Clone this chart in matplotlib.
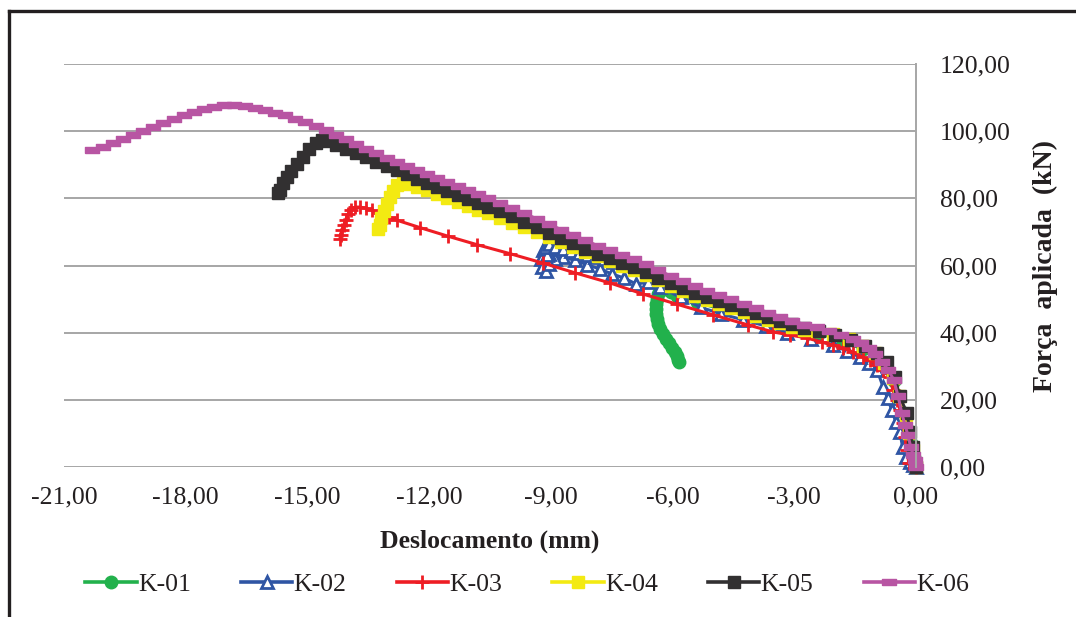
import matplotlib
matplotlib.use('Agg')
import matplotlib.pyplot as plt
from matplotlib.lines import Line2D
from matplotlib.ticker import FuncFormatter

plt.rcParams['font.family'] = ['Liberation Serif', 'DejaVu Serif']
plt.rcParams['axes.unicode_minus'] = False

# K-01
k01_x = [0, -0.05, -0.12, -0.2, -0.3, -0.42, -0.55, -0.72, -0.95, -1.3, -1.8, -2.4, -3.0,
         -3.6, -4.2, -4.8, -5.4, -5.9, -6.05, -6.15, -6.25, -6.32, -6.36, -6.39, -6.41,
         -6.42, -6.42, -6.39, -6.35, -6.3, -6.23, -6.16, -6.08, -6.01, -5.95, -5.9, -5.86,
         -5.83]
k01_y = [0, 3, 7, 11, 16, 21, 25.5, 29.5, 32.5, 35, 37.5, 39.8, 41.8,
         43.5, 45.2, 47, 49, 51, 52.2, 53, 53.6, 52.8, 51.5, 50, 48.5,
         47, 45.5, 44, 42.5, 41, 39.6, 38.2, 36.8, 35.5, 34.2, 33, 32,
         31.3]

# K-02
k02_x = [0, -0.07, -0.15, -0.25, -0.33, -0.4, -0.5, -0.6, -0.7, -0.81, -0.96, -1.15, -1.38,
         -1.7, -2.04, -2.6, -3.18, -3.7, -4.26, -4.8, -5.3, -5.8, -6.3, -6.6, -6.9, -7.2,
         -7.5, -7.8, -8.1, -8.4, -8.7, -8.9, -9.05, -9.2, -9.25, -9.22, -9.12, -9.05, -9.1,
         -9.15, -9.05, -8.9, -8.7, -8.5, -8.3, -8.1, -7.9, -7.7, -7.47]
k02_y = [0, 0.5, 1.5, 3, 6, 10.4, 13.5, 17, 20.5, 23.8, 28.9, 31, 32.7,
         34.5, 36.3, 38.2, 40, 42, 43.8, 45.6, 47.5, 50.5, 53.5, 55, 54.5, 56.3,
         57.5, 59, 60.2, 61.5, 62.5, 62, 63.5, 64.5, 62, 59.5, 58.5, 60.5, 63,
         65.5, 66.5, 65.5, 64.8, 64.3, 63.7, 63.1, 62.5, 61.8, 61]

# K-03
k03_x = [0, -0.18, -0.22, -0.27, -0.32, -0.39, -0.47, -0.57, -0.64, -0.81, -0.96, -1.13,
         -1.31, -1.55, -1.8, -2.04, -2.32, -2.69, -3.1, -3.52, -4.14, -5.0, -5.9, -6.73,
         -7.54, -8.4, -9.19, -10.0, -10.82, -11.53, -12.23, -12.8, -13.0, -13.2, -13.4,
         -13.55, -13.7, -13.82, -13.92, -14.0, -14.06, -14.1, -14.14, -14.18, -14.2]
k03_y = [0, 1.2, 5, 9, 13, 17, 19.9, 22.9, 26.8, 28.9, 30.4, 31.8,
         32.7, 34.2, 35.4, 36.3, 37.2, 38.4, 39.3, 40.2, 42.3, 45.3, 48.5, 51.5,
         54.8, 57.8, 60.7, 63.5, 66.2, 68.7, 71.3, 73.5, 74.5, 75.5, 76.4,
         77, 77.4, 77.4, 76.6, 75.2, 73.6, 72, 70.5, 69, 68]

# K-04
k04_x = [0, -0.08, -0.17, -0.25, -0.42, -0.56, -0.78, -1.0, -1.3, -1.65, -2.05, -2.45,
         -2.75, -3.05, -3.35, -3.65, -3.95, -4.25, -4.55, -4.85, -5.15, -5.45, -5.75,
         -6.05, -6.35, -6.65, -6.95, -7.25, -7.55, -7.85, -8.15, -8.45, -8.75, -9.05,
         -9.35, -9.65, -9.95, -10.25, -10.55, -10.8, -11.05, -11.3, -11.55, -11.8, -12.05,
         -12.3, -12.5, -12.65, -12.78, -12.88, -12.97, -13.05, -13.12, -13.18, -13.22,
         -13.25]
k04_y = [0, 5, 10, 15.5, 21, 26.5, 31, 33.8, 36, 38, 39.6, 40.5,
         40.8, 41.8, 42.8, 43.9, 45, 46.2, 47.4, 48.6, 49.7, 51, 52.5,
         54, 55.6, 57.2, 58.7, 60, 61.3, 62.7, 64.1, 65.6, 67.1, 68.6,
         70, 71.4, 72.8, 74.2, 75.5, 76.6, 77.8, 79, 80.1, 81.3, 82.4,
         83.4, 84.2, 84.6, 84, 82.3, 80.3, 78.3, 76.2, 74.2, 72.2,
         70.8]

# K-05
k05_x = [0, -0.07, -0.15, -0.22, -0.4, -0.52, -0.72, -0.96, -1.25, -1.6, -2.0, -2.4,
         -2.75, -3.05, -3.35, -3.65, -3.95, -4.25, -4.55, -4.85, -5.15, -5.45, -5.75,
         -6.05, -6.35, -6.65, -6.95, -7.25, -7.55, -7.85, -8.15, -8.45, -8.75, -9.05,
         -9.35, -9.65, -9.95, -10.25, -10.55, -10.8, -11.05, -11.3, -11.55, -11.8, -12.05,
         -12.3, -12.55, -12.8, -13.05, -13.3, -13.55, -13.8, -14.05, -14.3, -14.5, -14.65,
         -14.8, -14.95, -15.1, -15.25, -15.4, -15.5, -15.6, -15.68, -15.72]
k05_y = [0, 6, 10.4, 16, 21, 26.8, 31.3, 34, 36, 37.8, 39.3, 40.5,
         41.4, 42.5, 43.5, 44.6, 45.8, 47, 48.2, 49.4, 50.5, 51.8, 53.3,
         54.8, 56.4, 58, 59.5, 60.8, 62.1, 63.5, 65, 66.6, 68.2, 69.8,
         71.4, 73, 74.6, 76.1, 77.5, 78.7, 79.9, 81.1, 82.3, 83.5, 84.7,
         85.9, 87.1, 88.3, 89.6, 90.9, 92.2, 93.4, 94.6, 96, 97, 97.3,
         96.5, 94.6, 92.4, 90.2, 88, 86.3, 84.5, 82.5, 81.5]

# K-06
k06_x = [0, -0.03, -0.07, -0.13, -0.2, -0.27, -0.35, -0.44, -0.55, -0.69, -0.84, -1.0,
         -1.15, -1.35, -1.55, -1.85, -2.15, -2.45, -2.75, -3.05, -3.35, -3.65, -3.95,
         -4.25, -4.55, -4.85, -5.15, -5.45, -5.75, -6.05, -6.35, -6.65, -6.95, -7.25,
         -7.55, -7.85, -8.15, -8.45, -8.75, -9.05, -9.35, -9.65, -9.95, -10.25, -10.55,
         -10.8, -11.05, -11.3, -11.55, -11.8, -12.05, -12.3, -12.55, -12.8, -13.05, -13.3,
         -13.55, -13.8, -14.05, -14.3, -14.55, -14.8, -15.05, -15.3, -15.55, -15.8, -16.05,
         -16.3, -16.55, -16.8, -17.05, -17.3, -17.55, -17.8, -18.05, -18.3, -18.55, -18.8,
         -19.05, -19.3, -19.55, -19.8, -20.05, -20.3]
k06_y = [0, 2, 3.6, 6, 9.5, 12.5, 16, 21, 26, 29, 31.3, 33.6,
         35.3, 36.8, 38, 39.4, 40.6, 41.6, 42.4, 43.6, 44.8, 46, 47.3,
         48.6, 49.9, 51.2, 52.4, 53.8, 55.3, 56.9, 58.6, 60.3, 61.8, 63.2,
         64.5, 65.9, 67.5, 69.1, 70.7, 72.3, 73.9, 75.5, 77.1, 78.6, 80,
         81.2, 82.4, 83.6, 84.8, 86, 87.2, 88.4, 89.6, 90.8, 92.1, 93.4,
         94.7, 96.2, 97.6, 99, 100.4, 101.6, 102.7, 103.7, 104.7, 105.5, 106.3,
         107, 107.5, 107.8, 107.7, 107.3, 106.6, 105.7, 104.7, 103.6, 102.5, 101.3,
         100.1, 98.8, 97.6, 96.4, 95.3, 94.4]

x_ticks = [-21, -18, -15, -12, -9, -6, -3, 0]
y_ticks = [0, 20, 40, 60, 80, 100, 120]

rect = [(-1, -0.5), (1, -0.5), (1, 0.5), (-1, 0.5), (-1, -0.5)]

series = [
    ('K-01', k01_x, k01_y, dict(color='#22B14C', marker='o', markersize=9,
                                markerfacecolor='#22B14C', markeredgecolor='#22B14C')),
    ('K-02', k02_x, k02_y, dict(color='#2F55A4', marker='^', markersize=9,
                                markerfacecolor='white', markeredgecolor='#2F55A4',
                                markeredgewidth=2.0)),
    ('K-03', k03_x, k03_y, dict(color='#EE1D24', marker='+', markersize=10,
                                markeredgecolor='#EE1D24', markeredgewidth=2.0)),
    ('K-04', k04_x, k04_y, dict(color='#F3EA12', marker='s', markersize=8.5,
                                markerfacecolor='#F3EA12', markeredgecolor='#F3EA12')),
    ('K-05', k05_x, k05_y, dict(color='#323031', marker='s', markersize=8.5,
                                markerfacecolor='#323031', markeredgecolor='#323031')),
    ('K-06', k06_x, k06_y, dict(color='#B855A3', marker=rect, markersize=10,
                                markerfacecolor='#B855A3', markeredgecolor='#B855A3')),
]

fig = plt.figure(figsize=(10.76, 6.17), dpi=100)
ax = fig.add_axes([64 / 1076, 150 / 617, 852 / 1076, 403 / 617])

for name, xs, ys, style in series:
    ax.plot(xs, ys, linewidth=2.2, label=name, clip_on=False, **style)

ax.set_xlim(-21, 0)
ax.set_ylim(0, 120)
ax.set_xticks(x_ticks)
ax.set_yticks(y_ticks)
fmt = FuncFormatter(lambda v, p: f"{v:.2f}".replace('.', ','))
ax.xaxis.set_major_formatter(fmt)
ax.yaxis.set_major_formatter(fmt)

ax.yaxis.tick_right()
ax.yaxis.set_label_position('right')
ax.tick_params(axis='both', length=0, labelsize=18.5, colors='#231F20')
ax.tick_params(axis='x', pad=14)
ax.tick_params(axis='y', pad=17)

ax.set_axisbelow(True)
ax.yaxis.grid(True, color='#A6A6A6', linewidth=1.4)
ax.xaxis.grid(False)
for s in ['top', 'left', 'bottom']:
    ax.spines[s].set_visible(False)
ax.spines['right'].set_color('#A6A6A6')
ax.spines['right'].set_linewidth(1.4)

ax.set_xlabel('Deslocamento (mm)', fontsize=18.5, fontweight='bold', color='#231F20')
ax.xaxis.set_label_coords(0.5, -0.184)
ax.xaxis.label.set_va('center')
ax.set_ylabel('Força  aplicada  (kN)', fontsize=20, fontweight='bold', color='#231F20')
ax.yaxis.set_label_coords(1.152, 0.5)
ax.yaxis.label.set_va('center')

# legend
handles = []
for name, xs, ys, style in series:
    handles.append(Line2D([], [], linewidth=2.6, **style))
fig.legend(handles, [s[0] for s in series], loc='center', bbox_to_anchor=(0.49, 0.052),
           ncol=6, frameon=False, fontsize=18.5, handlelength=2.0, handletextpad=0.05,
           columnspacing=1.95, labelcolor='#231F20')

# outer frame (left and top edges)
fig.add_artist(Line2D([9 / 1076, 9 / 1076], [0, 1 - 11 / 617], transform=fig.transFigure,
                      color='#231F20', linewidth=2.4))
fig.add_artist(Line2D([9 / 1076, 1], [1 - 11 / 617, 1 - 11 / 617], transform=fig.transFigure,
                      color='#231F20', linewidth=2.4))

fig.savefig('out.png', dpi=100, facecolor='white')
